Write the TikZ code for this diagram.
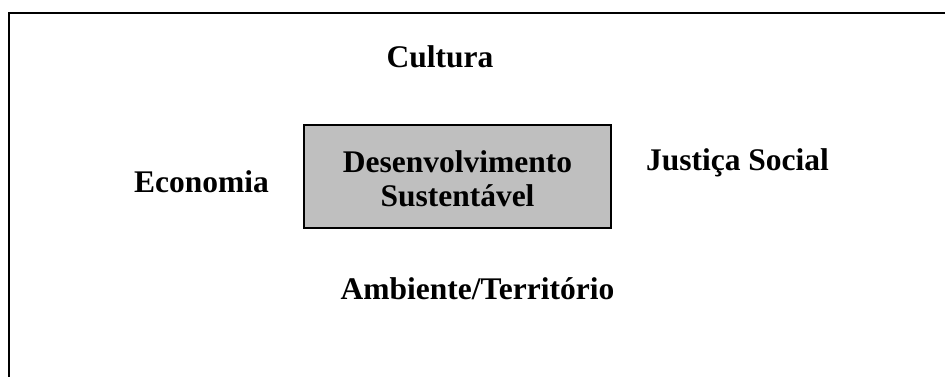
\documentclass[tikz,border=0pt]{standalone}
\usepackage{fontspec}
\setmainfont{Liberation Serif}

\begin{document}
\begin{tikzpicture}[x=1pt,y=-1pt,
  rotulo/.style={font=\bfseries\fontsize{31.5}{34}\selectfont,inner sep=0pt},
  caixa/.style={draw,line width=1.5pt,fill=black!25,minimum width=307pt,minimum height=103pt,inner sep=0pt}]
\useasboundingbox (0,0) rectangle (945,377);

% moldura
\draw[line width=2pt] (960,13.5) -- (9,13.5) -- (9,390);

\node[caixa] (desenv) at (457.5,176.5) {};
\node[rotulo,align=center] (texto) at (457.5,178.5) {Desenvolvimento\\Sustentável};

\node[rotulo,anchor=base] (cultura) at (440,68) {Cultura};
\node[rotulo,anchor=base] (economia) at (201.5,193) {Economia};
\node[rotulo,anchor=base] (justica) at (737.5,171) {Justiça Social};
\node[rotulo,anchor=base] (ambiente) at (477.5,299) {Ambiente/Território};

\end{tikzpicture}
\end{document}
